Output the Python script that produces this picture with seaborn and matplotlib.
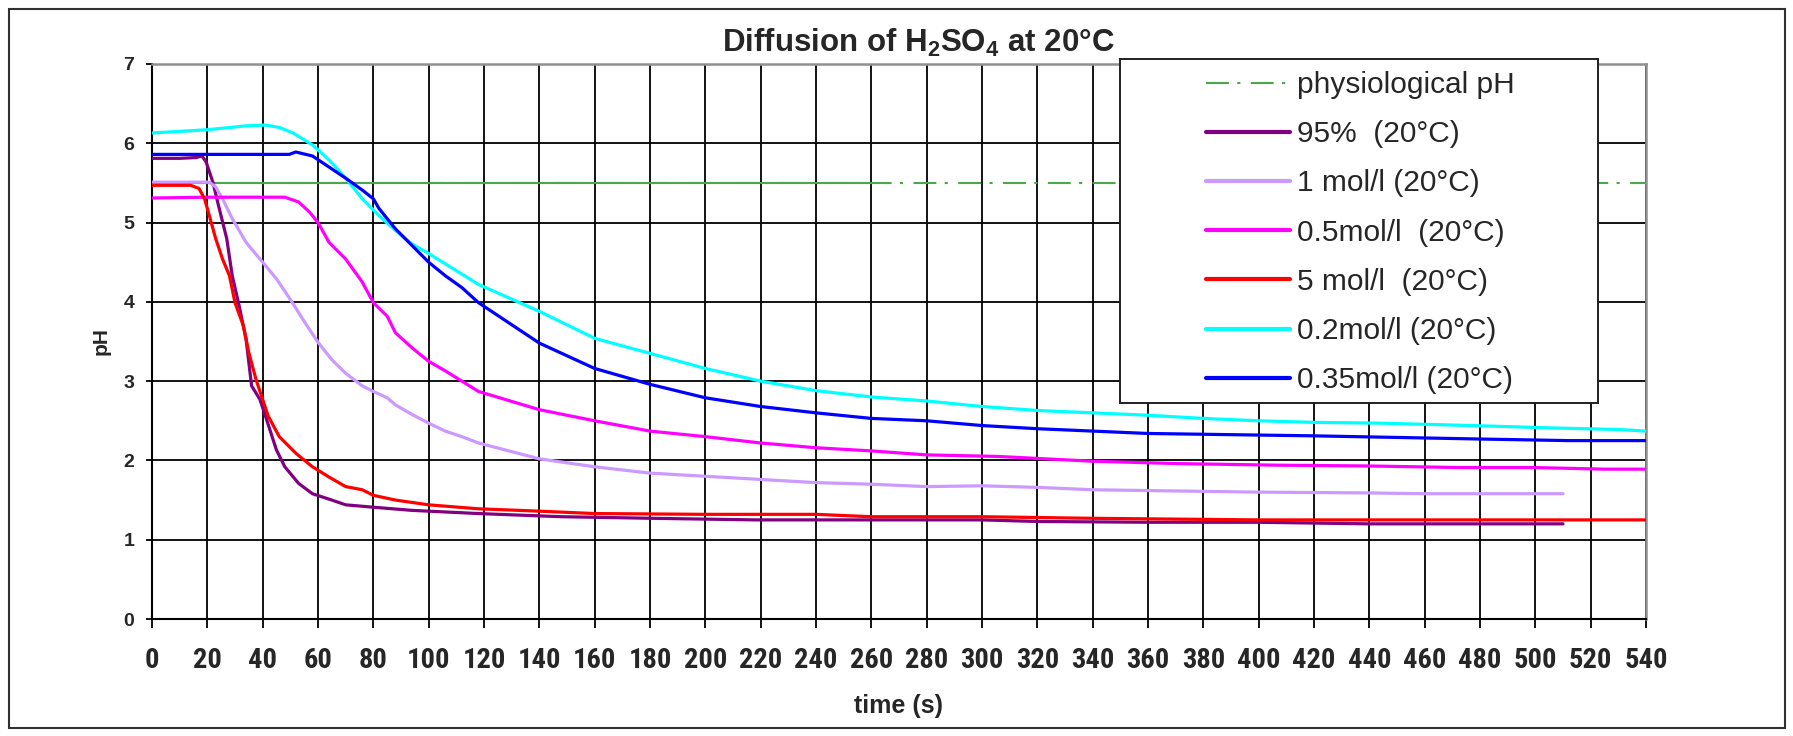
import matplotlib
matplotlib.use("Agg")
import matplotlib.pyplot as plt
from matplotlib import font_manager
from matplotlib.lines import Line2D
from matplotlib.patches import Rectangle
import seaborn as sns

# physiological reference (pH 5.5); Excel draws the dense first part as a solid line
phys_t = [0, 540]
phys_ph = [5.5, 5.5]
phys_solid_t = [0, 260]
phys_solid_ph = [5.5, 5.5]

t_95 = [0, 10, 16, 18, 19.5, 22, 24, 27, 29, 31.5, 34, 36, 39, 41, 45, 48, 53, 58, 65, 70,
        80, 94, 118, 148, 181, 218, 260, 300, 320, 360, 400, 440, 510]
ph_95 = [5.81, 5.81, 5.82, 5.84, 5.77, 5.51, 5.22, 4.80, 4.33, 3.95, 3.53, 2.94, 2.77, 2.56,
         2.13, 1.92, 1.71, 1.58, 1.50, 1.44, 1.41, 1.37, 1.33, 1.29, 1.27, 1.25, 1.25, 1.25,
         1.23, 1.22, 1.22, 1.20, 1.20]

t_1m = [0, 20.7, 23, 25.5, 29, 34, 40, 45, 50, 56, 60, 65, 70, 76, 80, 85, 88, 94, 100, 106,
        112, 118, 140, 160, 180, 200, 220, 240, 260, 280, 300, 320, 340, 360, 380, 400, 440,
        460, 510]
ph_1m = [5.51, 5.51, 5.45, 5.30, 5.05, 4.75, 4.50, 4.29, 4.03, 3.70, 3.49, 3.27, 3.10, 2.94,
         2.87, 2.79, 2.70, 2.58, 2.47, 2.37, 2.30, 2.22, 2.02, 1.92, 1.84, 1.80, 1.76, 1.72,
         1.70, 1.67, 1.68, 1.66, 1.63, 1.62, 1.61, 1.60, 1.59, 1.58, 1.58]

t_05m = [0, 20, 48, 53, 57, 60, 64, 70, 76, 80, 85, 88, 94, 100, 106, 112, 118, 140, 160,
         180, 200, 220, 240, 260, 280, 306, 340, 371, 407, 440, 473, 500, 525, 540]
ph_05m = [5.31, 5.32, 5.32, 5.26, 5.13, 5.00, 4.75, 4.54, 4.25, 3.99, 3.82, 3.61, 3.42, 3.25,
          3.13, 3.00, 2.87, 2.64, 2.50, 2.37, 2.30, 2.22, 2.16, 2.12, 2.07, 2.05, 1.99, 1.96,
          1.94, 1.93, 1.91, 1.91, 1.89, 1.89]

t_5m = [0, 14, 17, 19, 20.7, 23, 25.5, 28, 30, 33, 35, 37.6, 40, 42, 46, 52, 58, 64, 70, 76,
        80, 88, 100, 118, 140, 160, 200, 240, 260, 300, 340, 400, 540]
ph_5m = [5.47, 5.47, 5.43, 5.30, 5.09, 4.80, 4.54, 4.33, 3.99, 3.70, 3.36, 3.02, 2.77, 2.56,
         2.30, 2.09, 1.92, 1.79, 1.67, 1.63, 1.56, 1.50, 1.44, 1.39, 1.36, 1.33, 1.32, 1.32,
         1.29, 1.29, 1.27, 1.25, 1.25]

t_02m = [0, 10, 19.5, 25.5, 34, 41, 46, 51, 58, 64, 70, 76, 82, 88, 94, 100, 106, 112, 118,
         140, 160, 180, 200, 220, 240, 260, 280, 300, 320, 340, 360, 380, 400, 420, 444, 477,
         506, 530, 540]
ph_02m = [6.13, 6.15, 6.17, 6.19, 6.22, 6.23, 6.20, 6.13, 5.98, 5.79, 5.56, 5.30, 5.09, 4.90,
          4.73, 4.61, 4.48, 4.35, 4.22, 3.88, 3.54, 3.35, 3.16, 3.00, 2.88, 2.80, 2.75, 2.68,
          2.63, 2.60, 2.57, 2.53, 2.50, 2.48, 2.47, 2.44, 2.41, 2.39, 2.37]

t_035m = [0, 49.6, 52, 58, 64, 70, 76, 80, 82, 88, 94, 100, 106, 112, 118, 140, 160, 180,
          200, 220, 240, 260, 280, 300, 320, 340, 360, 380, 400, 420, 450, 480, 512, 540]
ph_035m = [5.86, 5.86, 5.89, 5.84, 5.70, 5.56, 5.41, 5.30, 5.18, 4.92, 4.71, 4.50, 4.33, 4.18,
           3.99, 3.48, 3.16, 2.96, 2.79, 2.68, 2.60, 2.53, 2.50, 2.44, 2.40, 2.37, 2.34, 2.33,
           2.32, 2.31, 2.29, 2.27, 2.25, 2.25]

series = [
    ("95%  (20°C)", t_95, ph_95, "#800080"),
    ("1 mol/l (20°C)", t_1m, ph_1m, "#CC99FF"),
    ("0.5mol/l  (20°C)", t_05m, ph_05m, "#FF00FF"),
    ("5 mol/l  (20°C)", t_5m, ph_5m, "#FF0000"),
    ("0.2mol/l (20°C)", t_02m, ph_02m, "#00FFFF"),
    ("0.35mol/l (20°C)", t_035m, ph_035m, "#0000FF"),
]
phys_label = "physiological pH"
phys_color = "#4CA64C"

x_ticks = list(range(0, 541, 20))
y_ticks = list(range(0, 8))

W, H = 1793, 736


def fx(px):
    return px / W


def fy(py):
    return 1 - py / H


def pick_narrow_font():
    # Excel's x tick labels look like Arial Narrow Bold
    entries = font_manager.fontManager.ttflist
    names = {f.name for f in entries}
    for name in ['Liberation Sans Narrow', 'Arial Narrow', 'Roboto Condensed',
                 'Open Sans Condensed', 'Noto Sans Condensed']:
        if name in names:
            return name, 'normal', 20.5
    for name in ['Roboto', 'Noto Sans', 'Open Sans', 'DejaVu Sans']:
        for f in entries:
            if f.name == name and 'condensed' in str(f.stretch) and f.weight in ('bold', 700):
                return name, 'condensed', 20.5
    return 'Liberation Sans', 'normal', 17


sns.set_style("white")
plt.rcParams['font.family'] = ['Liberation Sans', 'DejaVu Sans']
plt.rcParams['mathtext.fontset'] = 'custom'
plt.rcParams['mathtext.rm'] = 'Liberation Sans:bold'
plt.rcParams['mathtext.it'] = 'Liberation Sans:bold'

tick_family, tick_stretch, tick_size = pick_narrow_font()

fig = plt.figure(figsize=(W / 100, H / 100), dpi=100)
ax = fig.add_axes([fx(152), fy(619), fx(1646) - fx(152), fy(64) - fy(619)])

ax.plot(phys_t, phys_ph, color=phys_color, lw=1.5, ls=(0, (11, 4, 1.5, 5)), zorder=2)
ax.plot(phys_solid_t, phys_solid_ph, color=phys_color, lw=1.5, zorder=2)
for label, t, ph, col in series:
    sns.lineplot(x=t, y=ph, ax=ax, color=col, lw=2.3, estimator=None, zorder=3)

ax.set_xlim(0, 540)
ax.set_ylim(0, 7)
ax.set_xticks(x_ticks)
ax.set_yticks(y_ticks)
ax.set_axisbelow(True)
ax.grid(True, color='black', lw=1.3)

for side in ['left', 'bottom']:
    ax.spines[side].set_color('black')
    ax.spines[side].set_linewidth(1.5)
for side in ['top', 'right']:
    ax.spines[side].set_color('#909090')
    ax.spines[side].set_linewidth(1.8)

ax.tick_params(axis='x', direction='out', length=6.5, width=1.3, color='black', pad=14,
               bottom=True)
ax.tick_params(axis='y', direction='out', length=4.3, width=1.3, color='black', pad=8.5,
               left=True)
for lab in ax.get_xticklabels():
    lab.set_fontfamily(tick_family)
    lab.set_fontstretch(tick_stretch)
    lab.set_fontsize(tick_size)
    lab.set_fontweight('bold')
for lab in ax.get_yticklabels():
    lab.set_fontsize(14)
    lab.set_fontweight('bold')

ax.set_xlabel("time (s)", fontsize=18, fontweight='bold', labelpad=14)
ax.set_ylabel("pH", fontsize=15, fontweight='bold', labelpad=9)

fig.text(fx(918), fy(43), "Diffusion of H$_2$SO$_4$ at 20°C", ha='center', va='center',
         fontsize=22.5, fontweight='bold')

# legend box drawn separately (Excel pads it widely left/right)
fig.patches.append(Rectangle((fx(1120), fy(403)), fx(1598) - fx(1120), fy(59) - fy(403),
                             transform=fig.transFigure, facecolor='white',
                             edgecolor='#202020', lw=1.4, zorder=5))
handles = [Line2D([], [], color=phys_color, lw=1.5, ls=(0, (11, 4, 1.5, 5)))]
handles += [Line2D([], [], color=col, lw=3) for _, _, _, col in series]
labels = [phys_label] + [s[0] for s in series]
leg = fig.legend(handles, labels, loc='upper left', bbox_to_anchor=(fx(1206), fy(71)),
                 frameon=False, fontsize=21.5, handlelength=2.8, handletextpad=0.25,
                 labelspacing=0.71, borderpad=0, borderaxespad=0)
leg.set_zorder(6)

# outer chart border
fig.patches.append(Rectangle((fx(9), fy(728)), fx(1785) - fx(9), fy(9) - fy(728),
                             transform=fig.transFigure, facecolor='none',
                             edgecolor='#303030', lw=1.5, zorder=7))

fig.savefig("out.png", dpi=100)
